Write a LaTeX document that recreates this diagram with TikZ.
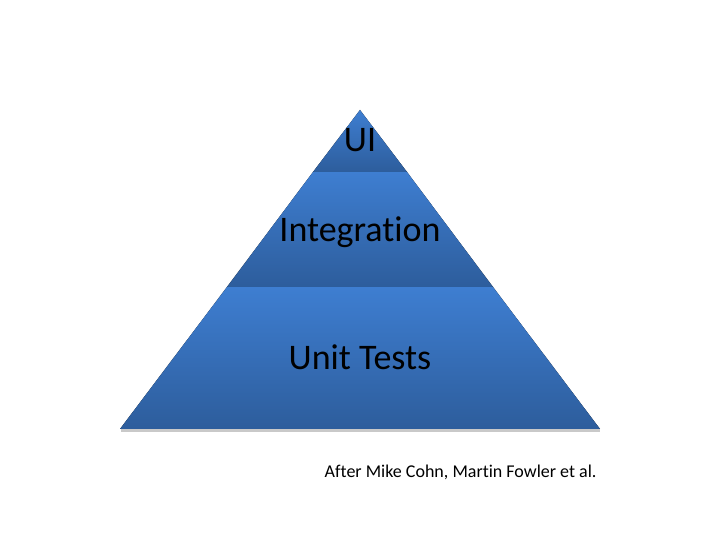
\documentclass[tikz,border=0pt]{standalone}
\usepackage{fontspec}
\setmainfont[Ligatures={NoCommon}]{Carlito}
\usetikzlibrary{calc}
\definecolor{LayerTop}{RGB}{62, 126, 209}
\definecolor{LayerBottom}{RGB}{45, 93, 156}
\tikzset{
  layer/.style={top color=LayerTop, bottom color=LayerBottom, draw=none},
  layerlabel/.style={anchor=base, font=\fontsize{36}{40}\selectfont, text=black}
}
\begin{document}
\begin{tikzpicture}[x=1pt, y=1pt]
        \useasboundingbox (0, 0) rectangle (720, 540);
        \fill[white] (0, 0) rectangle (720, 540);

        % Shadow
        \fill[black!35, opacity=0.6] (121, 107.5) -- (600, 107.5) -- (600, 111) -- (121, 111) -- cycle;

        % Unit Tests
        \fill[layer] (120, 111) -- (600, 111) -- (493, 253) -- (227, 253) -- cycle;
        \node[layerlabel] (unit) at (360, 170) {Unit Tests};

        % Integration
        \fill[layer] (227, 253) -- (493, 253) -- (407, 368) -- (313, 368) -- cycle;
        \node[layerlabel] (integration) at (360, 298) {Integration};

        % UI
        \fill[layer] (313, 368) -- (407, 368) -- (360, 430) -- cycle;
        \node[layerlabel] (ui) at (360, 388) {UI};

        % Credit
        \node[anchor=base east, font=\fontsize{18}{22}\selectfont] (credit) at (600, 62) {After Mike Cohn, Martin Fowler et al.};
    \end{tikzpicture}
\end{document}
